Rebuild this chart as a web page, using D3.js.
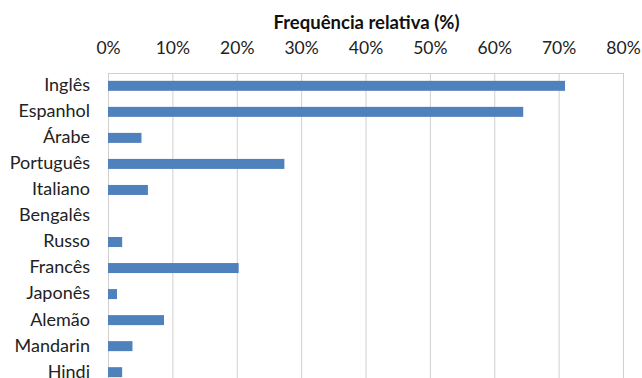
<!DOCTYPE html>
<html>
<head>
<meta charset="utf-8">
<script src="https://cdn.jsdelivr.net/npm/d3@7"></script>
<style>
  html, body { margin: 0; padding: 0; background: #fff; }
  svg { display: block; }
</style>
</head>
<body>
<svg id="chart" width="642" height="378"></svg>
<script>
// Languages and their relative frequency (%)
const languages = ["Inglês", "Espanhol", "Árabe", "Português", "Italiano", "Bengalês",
                   "Russo", "Francês", "Japonês", "Alemão", "Mandarin", "Hindi"];
const frequency = [71.0, 64.5, 5.2, 27.4, 6.2, 0, 2.2, 20.3, 1.4, 8.7, 3.8, 2.2];
const tickValues = [0, 10, 20, 30, 40, 50, 60, 70, 80];
const axisTitle = "Frequência relativa (%)";

const svg = d3.select("#chart");
const font = "Lato, 'Open Sans', sans-serif";

const plot = { left: 108, right: 623, top: 73, bottom: 385 };

const x = d3.scaleLinear().domain([0, 80]).range([plot.left, plot.right]);
const y = d3.scaleBand().domain(languages).range([plot.top, plot.bottom]).paddingInner(0.615).paddingOuter(0.3);

// vertical gridlines
svg.append("g")
  .selectAll("line")
  .data(tickValues)
  .join("line")
  .attr("x1", d => x(d) + 0.5).attr("x2", d => x(d) + 0.5)
  .attr("y1", plot.top).attr("y2", plot.bottom)
  .attr("stroke", "#d0d0d0").attr("stroke-width", 1);

// top border of the plot area
svg.append("line")
  .attr("x1", plot.left).attr("x2", plot.right + 1)
  .attr("y1", plot.top + 0.5).attr("y2", plot.top + 0.5)
  .attr("stroke", "#d0d0d0");

// bars
svg.append("g")
  .selectAll("rect")
  .data(languages.map((l, i) => ({ l, v: frequency[i] })))
  .join("rect")
  .attr("x", x(0))
  .attr("y", d => y(d.l) + (y.bandwidth() - 10) / 2)
  .attr("width", d => x(d.v) - x(0))
  .attr("height", 10)
  .attr("fill", "#4f81bd");

// top axis labels
const xAxis = d3.axisTop(x).tickValues(tickValues).tickFormat(d => d + "%").tickSize(0).tickPadding(0);
const gx = svg.append("g").attr("transform", "translate(0,54)").call(xAxis);
gx.select(".domain").remove();
gx.selectAll("text").attr("font-family", font).attr("font-size", 17.5).attr("fill", "#222");

// category labels
const yAxis = d3.axisLeft(y).tickSize(0).tickPadding(0);
const gy = svg.append("g").attr("transform", "translate(90,0)").call(yAxis);
gy.select(".domain").remove();
gy.selectAll("text").attr("font-family", font).attr("font-size", 18).attr("fill", "#222").attr("dy", "0.3em");

// axis title
svg.append("text")
  .attr("x", (plot.left + plot.right) / 2 + 1)
  .attr("y", 29)
  .attr("text-anchor", "middle")
  .attr("font-family", font)
  .attr("font-weight", "bold")
  .attr("font-size", 18.5)
  .attr("fill", "#111")
  .text(axisTitle);
</script>
</body>
</html>
